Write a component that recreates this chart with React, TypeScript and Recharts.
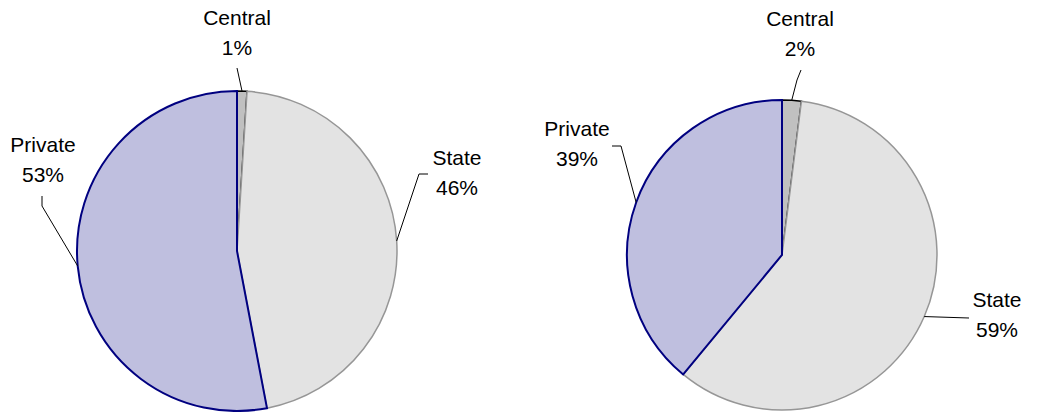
import React from "react";
import { PieChart, Pie, Cell } from "recharts";

// shares by sector, clockwise from 12 o'clock
const sectors = ["Central", "State", "Private"];
const leftShares = [1, 46, 53];
const rightShares = [2, 59, 39];

const fills: Record<string, string> = {
  Central: "#c0c0c0",
  State: "#e3e3e3",
  Private: "#bfbfdf",
};
const strokes: Record<string, string> = {
  Central: "#000000",
  State: "#969696",
  Private: "#000080",
};

type LabelPos = { tx: number; ty: number; line: [number, number][] };

// label text + leader elbows, relative to the pie centre
const leftLabels: Record<string, LabelPos> = {
  Central: { tx: 0, ty: -226, line: [[0, -183]] },
  State: { tx: 220, ty: -86, line: [[191, -77], [182, -77]] },
  Private: { tx: -194, ty: -99, line: [[-195, -55], [-195, -45]] },
};
const rightLabels: Record<string, LabelPos> = {
  Central: { tx: 18, ty: -229, line: [[19, -185], [15, -175]] },
  State: { tx: 215, ty: 52, line: [[187, 63]] },
  Private: { tx: -205, ty: -119, line: [[-170, -109], [-161, -109]] },
};

const RAD = Math.PI / 180;
const font = { fontFamily: "'Liberation Sans', Arial, sans-serif", fontSize: 21 };

const makeLabel = (layout: Record<string, LabelPos>) => (props: any) => {
  const { cx, cy, midAngle, outerRadius, name, value } = props;
  const pos = layout[name];
  if (!pos) return null;
  const ax = cx + outerRadius * Math.cos(-midAngle * RAD);
  const ay = cy + outerRadius * Math.sin(-midAngle * RAD);
  const pts = [...pos.line.map(([x, y]) => [cx + x, cy + y]), [ax, ay]];
  const d = pts.map((p, i) => `${i === 0 ? "M" : "L"}${p[0]},${p[1]}`).join(" ");
  return (
    <g>
      <path d={d} stroke="#000" strokeWidth={1} fill="none" />
      <text x={cx + pos.tx} y={cy + pos.ty} textAnchor="middle" fill="#000" style={font}>
        {name}
      </text>
      <text x={cx + pos.tx} y={cy + pos.ty + 30} textAnchor="middle" fill="#000" style={font}>
        {value}%
      </text>
    </g>
  );
};

export default function App() {
  const left = sectors.map((name, i) => ({ name, value: leftShares[i] }));
  const right = sectors.map((name, i) => ({ name, value: rightShares[i] }));

  return (
    <div style={{ position: "absolute", left: 0, top: 0, background: "#fff" }}>
      <PieChart width={1037} height={412} margin={{ top: 0, right: 0, bottom: 0, left: 0 }}>
        <Pie
          data={left}
          dataKey="value"
          nameKey="name"
          cx={237}
          cy={251}
          outerRadius={160}
          startAngle={90}
          endAngle={-270}
          isAnimationActive={false}
          labelLine={false}
          label={makeLabel(leftLabels)}
        >
          {left.map((d) => (
            <Cell key={d.name} fill={fills[d.name]} stroke={strokes[d.name]} strokeWidth={d.name === "Private" ? 2 : 1.5} />
          ))}
        </Pie>
        <Pie
          data={right}
          dataKey="value"
          nameKey="name"
          cx={782}
          cy={255}
          outerRadius={155}
          startAngle={90}
          endAngle={-270}
          isAnimationActive={false}
          labelLine={false}
          label={makeLabel(rightLabels)}
        >
          {right.map((d) => (
            <Cell key={d.name} fill={fills[d.name]} stroke={strokes[d.name]} strokeWidth={d.name === "Private" ? 2 : 1.5} />
          ))}
        </Pie>
      </PieChart>
    </div>
  );
}
